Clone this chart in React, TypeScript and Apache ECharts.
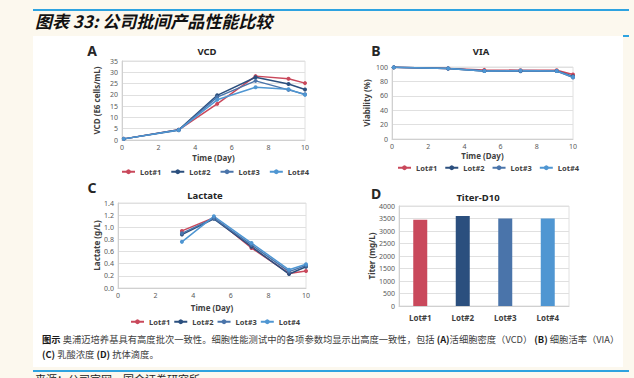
import React, { useEffect, useRef } from "react";
import * as echarts from "echarts";

const lots = ["Lot#1", "Lot#2", "Lot#3", "Lot#4"];
const lotColors = ["#c9485b", "#2b4f7e", "#4a74aa", "#4f96d2"];

const vcdDays = [0.1, 3.1, 5.2, 7.3, 9.1, 10];
const vcdLot1 = [0.5, 4.5, 16, 28.3, 27.1, 25.2];
const vcdLot2 = [0.5, 4.5, 19.8, 27.8, 24.8, 22.4];
const vcdLot3 = [0.5, 4.3, 19, 26.2, 22.2, 20.3];
const vcdLot4 = [0.5, 4.4, 17.8, 23.4, 22.5, 20];

const viaDays = [0.1, 3.1, 5.1, 7.1, 9.1, 10];
const viaLot1 = [99.5, 98, 96, 95.5, 95.5, 89.5];
const viaLot2 = [99.5, 98, 94.5, 94.5, 94.5, 87];
const viaLot3 = [99.5, 98, 94.5, 94, 94.5, 85.5];
const viaLot4 = [99.5, 98, 94.5, 95, 94.5, 86];

const lacDays = [3.4, 5.1, 7.1, 9.1, 10];
const lacLot1 = [0.94, 1.16, 0.66, 0.24, 0.28];
const lacLot2 = [0.88, 1.14, 0.68, 0.23, 0.35];
const lacLot3 = [0.9, 1.15, 0.71, 0.27, 0.37];
const lacLot4 = [0.76, 1.18, 0.74, 0.3, 0.39];

const titer = [3450, 3600, 3500, 3500];

const FONT = '"Noto Sans", "Noto Sans CJK SC", sans-serif';
const CJK = '"Noto Sans CJK SC", sans-serif';

function lineSeries(name: string, color: string, xs: number[], ys: number[], idx: number) {
  return {
    type: "line",
    name,
    xAxisIndex: idx,
    yAxisIndex: idx,
    data: xs.map((x, i) => [x, ys[i]]),
    symbol: "circle",
    symbolSize: 4,
    lineStyle: { width: 1.5, color },
    itemStyle: { color },
  };
}

const axisLabel = { fontSize: 7, color: "#595959", fontFamily: FONT, margin: 4 };
const nameStyle = { fontSize: 8, fontWeight: "bold", color: "#404040", fontFamily: FONT };
const split = { show: true, lineStyle: { color: "#e0e0e0", width: 1 } };

function timeAxis(idx: number, gap: number) {
  return {
    type: "value",
    gridIndex: idx,
    min: 0,
    max: 10,
    interval: 2,
    name: "Time (Day)",
    nameLocation: "middle",
    nameGap: gap,
    nameTextStyle: nameStyle,
    axisLabel,
    axisTick: { show: false },
    axisLine: { show: true, lineStyle: { color: "#d0d0d0" } },
    splitLine: { show: false },
  };
}

function valAxis(idx: number, name: string, max: number, interval: number, gap: number, fmt: any) {
  return {
    type: "value",
    gridIndex: idx,
    min: 0,
    max,
    interval,
    name,
    nameLocation: "middle",
    nameRotate: 90,
    nameGap: gap,
    nameTextStyle: nameStyle,
    axisLabel: { ...axisLabel, formatter: fmt },
    axisTick: { show: false },
    axisLine: { show: true, lineStyle: { color: "#d0d0d0" } },
    splitLine: split,
  };
}

function legend(left: number, top: number, gap: number) {
  return {
    left,
    top,
    data: lots,
    itemWidth: 13,
    itemHeight: 6,
    itemGap: gap,
    textStyle: { fontSize: 7.5, fontWeight: "bold", color: "#404040", fontFamily: FONT },
  };
}

function label(text: string, x: number, y: number, size: number) {
  return {
    type: "text",
    x,
    y,
    style: {
      text,
      fontSize: size,
      fontWeight: "bold",
      fill: "#262626",
      fontFamily: FONT,
      align: "center",
      verticalAlign: "middle",
    },
  };
}

const plain = (v: number) => String(v);

export default function App() {
  const ref = useRef<HTMLDivElement>(null);
  useEffect(() => {
    if (!ref.current) return;
    const chart = echarts.init(ref.current, undefined, { renderer: "svg" });
    const vcdSets = [vcdLot1, vcdLot2, vcdLot3, vcdLot4];
    const viaSets = [viaLot1, viaLot2, viaLot3, viaLot4];
    const lacSets = [lacLot1, lacLot2, lacLot3, lacLot4];
    const series: any[] = [];
    lots.forEach((n, i) => series.push(lineSeries(n, lotColors[i], vcdDays, vcdSets[i], 0)));
    lots.forEach((n, i) => series.push(lineSeries(n, lotColors[i], viaDays, viaSets[i], 1)));
    lots.forEach((n, i) => series.push(lineSeries(n, lotColors[i], lacDays, lacSets[i], 2)));
    series.push({
      type: "bar",
      name: "Titer",
      xAxisIndex: 3,
      yAxisIndex: 3,
      barWidth: 14,
      data: titer.map((v, i) => ({ value: v, itemStyle: { color: lotColors[i] } })),
    });
    const gridStyle = { show: true, borderColor: "#e0e0e0", borderWidth: 1, backgroundColor: "transparent" };
    chart.setOption({
      animation: false,
      backgroundColor: "#fcf8ee",
      grid: [
        { left: 122, top: 61, width: 183, height: 79, ...gridStyle },
        { left: 392, top: 67, width: 181, height: 72, ...gridStyle },
        { left: 118, top: 203, width: 188, height: 85, ...gridStyle },
        { left: 399, top: 206, width: 170, height: 100, ...gridStyle },
      ],
      xAxis: [
        timeAxis(0, 13),
        timeAxis(1, 12),
        timeAxis(2, 15),
        {
          type: "category",
          gridIndex: 3,
          data: lots,
          axisLabel: { fontSize: 8, fontWeight: "bold", color: "#404040", fontFamily: FONT, margin: 7 },
          axisTick: { show: false },
          axisLine: { show: true, lineStyle: { color: "#d0d0d0" } },
        },
      ],
      yAxis: [
        valAxis(0, "VCD (E6 cells/mL)", 35, 5, 22, plain),
        valAxis(1, "Viability (%)", 100, 20, 22, plain),
        valAxis(2, "Lactate (g/L)", 1.4, 0.2, 18, (v: number) => v.toFixed(1)),
        valAxis(3, "Titer (mg/L)", 4000, 500, 22, plain),
      ],
      legend: [legend(116, 163, 9), legend(392, 159, 7), legend(125, 313, 3)],
      series,
      graphic: [
        {
          type: "rect",
          z: -10,
          shape: { x: 33, y: 36, width: 590, height: 331 },
          style: { fill: "#ffffff" },
        },
        { type: "rect", shape: { x: 33, y: 9, width: 596, height: 2 }, style: { fill: "#2ea3e0" } },
        { type: "rect", shape: { x: 33, y: 370, width: 596, height: 2 }, style: { fill: "#2ea3e0" } },
        { type: "rect", shape: { x: 623, y: 35, width: 6, height: 2 }, style: { fill: "#2ea3e0" } },
        {
          type: "text",
          x: 35,
          y: 20,
          style: {
            text: "图表 33: 公司批间产品性能比较",
            fontSize: 17,
            fontWeight: "bold",
            fontStyle: "italic",
            fill: "#111111",
            fontFamily: CJK,
            verticalAlign: "middle",
          },
        },
        label("A", 92, 50, 14),
        label("B", 376, 50, 14),
        label("C", 92, 187, 14),
        label("D", 376, 193, 14),
        label("VCD", 207, 51, 9.5),
        label("VIA", 481, 51, 9.5),
        label("Lactate", 205, 195, 9.5),
        label("Titer-D10", 478, 197, 9.5),
        {
          type: "text",
          x: 42,
          y: 339,
          style: {
            text:
              "{b|图示} 奥浦迈培养基具有高度批次一致性。细胞性能测试中的各项参数均显示出高度一致性，包括 {b|(A)}活细胞密度（VCD） {b|(B)} 细胞活率（VIA）",
            fontSize: 9.3,
            fill: "#404040",
            fontFamily: CJK,
            verticalAlign: "middle",
            rich: { b: { fontSize: 9.3, fontWeight: "bold", fill: "#1a1a1a", fontFamily: CJK } },
          },
        },
        {
          type: "text",
          x: 42,
          y: 354,
          style: {
            text: "{b|(C)} 乳酸浓度 {b|(D)} 抗体滴度。",
            fontSize: 9.3,
            fill: "#404040",
            fontFamily: CJK,
            verticalAlign: "middle",
            rich: { b: { fontSize: 9.3, fontWeight: "bold", fill: "#1a1a1a", fontFamily: CJK } },
          },
        },
        {
          type: "text",
          x: 35,
          y: 373,
          style: {
            text: "来源：公司官网，国金证券研究所",
            fontSize: 11,
            fill: "#222222",
            fontFamily: CJK,
            verticalAlign: "top",
          },
        },
      ],
    });
    return () => chart.dispose();
  }, []);
  return (
    <div
      ref={ref}
      style={{ position: "fixed", left: 0, top: 0, width: 634, height: 378 }}
    />
  );
}
